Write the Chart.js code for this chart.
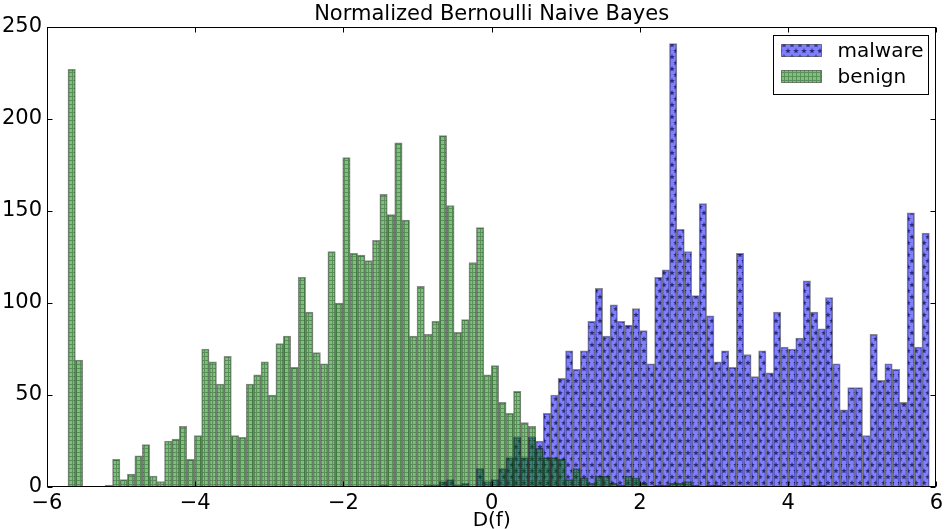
<!DOCTYPE html>
<html>
<head>
<meta charset="utf-8">
<script src="https://cdn.jsdelivr.net/npm/chart.js@4.4.0/dist/chart.umd.min.js"></script>
<style>
  html, body { margin: 0; padding: 0; background: #fff; }
</style>
</head>
<body>
<canvas id="hist" width="947" height="529"></canvas>
<script>
// histogram bins (shared grid for both series)
const binStart = -5.717;
const binWidth = 0.1002;

const benign = [
    227, 69, 0, 0, 0, 1, 15, 4, 7, 17,
    23, 6, 3, 25, 26, 33, 15, 28, 75, 68,
    56, 71, 28, 27, 56, 61, 68, 50, 78, 82,
    65, 114, 95, 73, 67, 128, 100, 179, 127, 126,
    123, 134, 159, 148, 187, 145, 82, 109, 83, 90,
    191, 153, 84, 91, 122, 141, 61, 66, 46, 40,
    52, 35, 33, 21, 16, 16, 15, 4, 10, 5,
    2, 6, 6, 2, 1, 6, 5, 2, 0, 1,
    1, 2, 2, 3, 1, 0, 1, 1, 0, 0,
    0, 0, 0, 0, 0, 0, 0, 0, 0, 1,
    0, 1, 0, 0, 0, 0, 0, 0, 0, 0,
    0, 0, 0, 0, 0, 0
];

const malware = [
    0, 0, 0, 0, 0, 0, 0, 0, 0, 0,
    0, 0, 0, 0, 0, 0, 0, 0, 0, 0,
    0, 0, 0, 0, 0, 0, 0, 0, 0, 0,
    0, 0, 0, 0, 0, 0, 0, 0, 0, 0,
    0, 0, 1, 0, 0, 0, 0, 0, 1, 1,
    3, 4, 1, 2, 0, 10, 3, 4, 10, 16,
    27, 16, 27, 25, 40, 50, 59, 74, 64, 74,
    90, 108, 82, 99, 90, 88, 97, 85, 67, 114,
    118, 241, 140, 128, 104, 154, 93, 68, 74, 65,
    127, 72, 60, 74, 62, 95, 76, 75, 81, 112,
    95, 86, 103, 67, 42, 54, 54, 28, 83, 58,
    67, 64, 46, 149, 76, 138
];

const xTicks = [-6, -4, -2, 0, 2, 4, 6];
const yTicks = [0, 50, 100, 150, 200, 250];
const chartTitle = 'Normalized Bernoulli Naive Bayes';

const binCenters = benign.map((_, i) => binStart + (i + 0.5) * binWidth);

const FONT = 'DejaVu Sans';
const canvas = document.getElementById('hist');
const ctx = canvas.getContext('2d');

function makePattern(w, h, fill, drawHatch) {
    const c = document.createElement('canvas');
    c.width = w;
    c.height = h;
    const g = c.getContext('2d');
    g.fillStyle = fill;
    g.fillRect(0, 0, w, h);
    drawHatch(g);
    return ctx.createPattern(c, 'repeat');
}

function star(g, cx, cy, r) {
    g.beginPath();
    for (let k = 0; k < 10; k++) {
        const rad = k % 2 ? r * 0.45 : r;
        const ang = -Math.PI / 2 + k * Math.PI / 5;
        g.lineTo(cx + rad * Math.cos(ang), cy + rad * Math.sin(ang));
    }
    g.closePath();
    g.fill();
}

// '*' hatch for malware
const starFill = makePattern(8, 12, 'rgba(0,0,255,0.5)', g => {
    g.fillStyle = 'rgba(0,0,50,0.65)';
    star(g, 4, 3, 2.9);
    star(g, 0, 9, 2.9);
    star(g, 8, 9, 2.9);
});

// '+' hatch for benign
const gridFill = makePattern(4, 4, 'rgba(0,128,0,0.5)', g => {
    g.fillStyle = 'rgba(0,40,0,0.3)';
    g.fillRect(0, 0, 4, 1);
    g.fillRect(0, 1, 1, 3);
});

// title, frame, inward ticks and the legend box, matplotlib style
const frameAndLegend = {
    id: 'frameAndLegend',
    afterDraw(chart) {
        const { ctx, chartArea: a, scales } = chart;
        const L = Math.round(a.left) + 0.5, R = Math.round(a.right) - 0.5;
        const T = Math.round(a.top) + 0.5, B = Math.round(a.bottom) - 0.5;
        ctx.save();

        ctx.fillStyle = '#000';
        ctx.font = '21px "' + FONT + '"';
        ctx.textAlign = 'center';
        ctx.textBaseline = 'middle';
        ctx.fillText(chartTitle, (a.left + a.right) / 2, 15);

        ctx.strokeStyle = '#000';
        ctx.lineWidth = 1;
        ctx.strokeRect(L, T, R - L, B - T);

        ctx.beginPath();
        xTicks.forEach(v => {
            const px = Math.round(scales.x.getPixelForValue(v)) + 0.5;
            ctx.moveTo(px, B); ctx.lineTo(px, B - 5);
            ctx.moveTo(px, T); ctx.lineTo(px, T + 5);
        });
        yTicks.forEach(v => {
            const py = Math.round(scales.y.getPixelForValue(v)) + 0.5;
            ctx.moveTo(L, py); ctx.lineTo(L + 5, py);
            ctx.moveTo(R, py); ctx.lineTo(R - 5, py);
        });
        ctx.stroke();

        // legend
        const bw = 155, bh = 59;
        const bx = Math.round(a.right) - 8 - bw + 0.5;
        const by = Math.round(a.top) + 8 + 0.5;
        ctx.fillStyle = '#fff';
        ctx.fillRect(bx, by, bw, bh);
        ctx.strokeStyle = '#000';
        ctx.strokeRect(bx, by, bw, bh);

        const items = [chart.data.datasets[0], chart.data.datasets[1]];
        items.forEach((ds, i) => {
            const cy = by + 15 + i * 26;
            ctx.fillStyle = ds.backgroundColor;
            ctx.fillRect(bx + 8, cy - 6, 40, 12);
            ctx.strokeStyle = 'rgba(0,0,0,0.45)';
            ctx.strokeRect(bx + 8, cy - 6, 40, 12);
            ctx.fillStyle = '#000';
            ctx.font = '20px "' + FONT + '"';
            ctx.textBaseline = 'middle';
            ctx.textAlign = 'left';
            ctx.fillText(ds.label, bx + 64, cy + 1);
        });
        ctx.restore();
    }
};

const barStyle = {
    borderColor: 'rgba(0,0,0,0.45)',
    borderWidth: 1,
    grouped: false,
    barPercentage: 1,
    categoryPercentage: 1
};

new Chart(ctx, {
    type: 'bar',
    data: {
        datasets: [
            Object.assign({
                label: 'malware',
                data: malware.map((v, i) => ({ x: binCenters[i], y: v })),
                backgroundColor: starFill,
                order: 2
            }, barStyle),
            Object.assign({
                label: 'benign',
                data: benign.map((v, i) => ({ x: binCenters[i], y: v })),
                backgroundColor: gridFill,
                order: 1
            }, barStyle)
        ]
    },
    options: {
        responsive: false,
        devicePixelRatio: 1,
        animation: false,
        layout: { padding: { top: 27, right: 8, bottom: 0, left: 0 } },
        plugins: {
            legend: { display: false },
            tooltip: { enabled: false },
            title: { display: false }
        },
        scales: {
            x: {
                type: 'linear',
                min: -6,
                max: 6,
                offset: false,
                afterBuildTicks: s => { s.ticks = xTicks.map(v => ({ value: v })); },
                afterFit: s => { s.height = 42; },
                grid: { display: false, drawTicks: false },
                border: { display: false },
                ticks: {
                    padding: 4,
                    color: '#000',
                    maxRotation: 0,
                    autoSkip: false,
                    font: { family: FONT, size: 21 },
                    callback: v => String(v).replace('-', '\u2212')
                },
                title: {
                    display: true,
                    text: 'D(f)',
                    color: '#000',
                    padding: 0,
                    font: { family: FONT, size: 20, lineHeight: '16px' }
                }
            },
            y: {
                min: 0,
                max: 250,
                afterBuildTicks: s => { s.ticks = yTicks.map(v => ({ value: v })); },
                afterFit: s => { s.width = 47; },
                grid: { display: false, drawTicks: false },
                border: { display: false },
                ticks: {
                    padding: 5,
                    color: '#000',
                    font: { family: FONT, size: 21 }
                }
            }
        }
    },
    plugins: [frameAndLegend]
});
</script>
</body>
</html>
